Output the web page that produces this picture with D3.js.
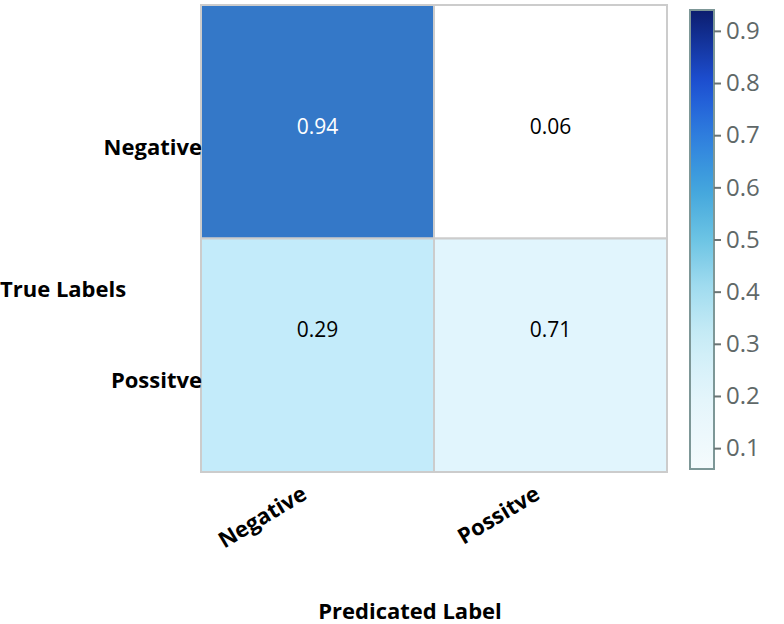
<!DOCTYPE html>
<html>
<head>
  <meta charset="utf-8"/>
  <title>Confusion matrix</title>
  <script src="https://cdn.jsdelivr.net/npm/d3@7"></script>
<style>
body { margin: 0; background: #fff; }
svg text { font-family: "Open Sans", sans-serif; }
.lbl { font-weight: bold; fill: #000; }
</style>
</head>
<body>
  <svg id="chart" width="784" height="624"></svg>
  <script>
    // data
    var trueLabels = ["Negative", "Possitve"];
    var predLabels = ["Negative", "Possitve"];
    var matrix = [
      [0.94, 0.06],
      [0.29, 0.71]
    ];
    var barTicks = [0.1, 0.2, 0.3, 0.4, 0.5, 0.6, 0.7, 0.8, 0.9];
    var barDomain = [0.06, 0.94];

    var svg = d3.select("#chart");
    var plotL = 201, plotR = 667, plotT = 5, plotB = 472;

    var x = d3.scaleBand().domain(predLabels).range([plotL, plotR]);
    var y = d3.scaleBand().domain(trueLabels).range([plotT, plotB]);
    // value labels sit a little off the row centres in the original
    var yText = d3.scalePoint().domain(trueLabels).range([plotT, plotB]).padding(0.65).align(0.46);

    // cell colours as seen in the picture
    var cellColor = d3.scaleOrdinal()
        .domain([0.94, 0.06, 0.29, 0.71])
        .range(["#3478c8", "#ffffff", "#c3ebfa", "#e1f5fd"]);

    var cells = [];
    matrix.forEach(function(row, i) {
      row.forEach(function(v, j) {
        cells.push({ t: trueLabels[i], p: predLabels[j], v: v });
      });
    });

    var g = svg.append("g");
    g.selectAll("rect.cell").data(cells).enter().append("rect")
        .attr("class", "cell")
        .attr("x", function(d) { return x(d.p); })
        .attr("y", function(d) { return y(d.t); })
        .attr("width", x.bandwidth())
        .attr("height", y.bandwidth())
        .attr("fill", function(d) { return cellColor(d.v); })
        .attr("stroke", "#cccccc")
        .attr("stroke-width", 2);

    g.selectAll("text.val").data(cells).enter().append("text")
        .attr("class", "val")
        .attr("x", function(d) { return x(d.p) + x.bandwidth() / 2; })
        .attr("y", function(d) { return yText(d.t); })
        .attr("dy", "0.35em")
        .attr("text-anchor", "middle")
        .attr("font-size", 21)
        .attr("fill", function(d) { return cellColor(d.v) === "#3478c8" ? "#ffffff" : "#000000"; })
        .text(function(d) { return d3.format(".2f")(d.v); });

    // row labels
    svg.selectAll("text.ylab").data(trueLabels).enter().append("text")
        .attr("class", "lbl ylab")
        .attr("x", plotL + 1)
        .attr("y", function(d) { return y(d) + y.bandwidth() / 2 + 33; })
        .attr("text-anchor", "end")
        .attr("font-size", 22)
        .text(function(d) { return d; });

    // column labels, rotated
    svg.selectAll("text.xlab").data(predLabels).enter().append("text")
        .attr("class", "lbl xlab")
        .attr("text-anchor", "end")
        .attr("font-size", 22)
        .attr("transform", function(d) {
          return "translate(" + (x(d) + x.bandwidth() / 2 - 9) + ",498) rotate(-31)";
        })
        .text(function(d) { return d; });

    svg.append("text").attr("class", "lbl")
        .attr("x", 0).attr("y", 297)
        .attr("font-size", 22)
        .text("True Labels");

    svg.append("text").attr("class", "lbl")
        .attr("x", 410).attr("y", 619)
        .attr("text-anchor", "middle")
        .attr("font-size", 22)
        .text("Predicated Label");

    // colour bar
    var barX = 690, barW = 24, barTop = 10, barBottom = 469;
    var cb = d3.scaleLinear().domain(barDomain).range([barBottom, barTop]);
    var barColor = d3.scaleLinear()
        .domain([0.06, 0.2, 0.3, 0.4, 0.5, 0.6, 0.7, 0.8, 0.94])
        .range(["#f5fbfd", "#e3f5fb", "#cdeef7", "#a6def0", "#6cc4e4", "#41a4dc", "#2e7ede", "#1d50d4", "#0c1d6e"]);

    var defs = svg.append("defs");
    var grad = defs.append("linearGradient")
        .attr("id", "cbar").attr("x1", 0).attr("y1", 1).attr("x2", 0).attr("y2", 0);
    d3.range(0, 1.0001, 0.05).forEach(function(t) {
      var v = barDomain[0] + t * (barDomain[1] - barDomain[0]);
      grad.append("stop").attr("offset", t).attr("stop-color", barColor(v));
    });

    svg.append("rect")
        .attr("x", barX).attr("y", barTop)
        .attr("width", barW).attr("height", barBottom - barTop)
        .attr("fill", "url(#cbar)")
        .attr("stroke", "#7d9797")
        .attr("stroke-width", 2);

    var axis = d3.axisRight(cb).tickValues(barTicks).tickSize(7).tickPadding(5)
        .tickFormat(d3.format(".1f"));
    var ax = svg.append("g")
        .attr("transform", "translate(" + (barX + barW) + ",0)")
        .call(axis);
    ax.select(".domain").remove();
    ax.selectAll(".tick line").attr("stroke", "#6a7474").attr("stroke-width", 2);
    ax.selectAll(".tick text")
        .attr("font-size", 24)
        .attr("fill", "#5f6868")
        .attr("font-family", "Open Sans, sans-serif");
  </script>
</body>
</html>
